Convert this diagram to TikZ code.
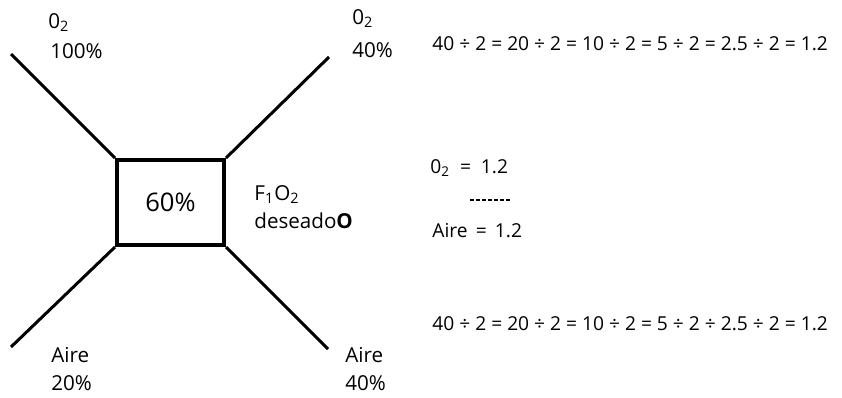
\documentclass[tikz,border=0pt]{standalone}
\usepackage{fontspec}
\setmainfont{Open Sans}
\usepackage{tikz}
\usetikzlibrary{calc}

\tikzset{
	pipe/.style={line width=1.5pt},
	lbl/.style={anchor=base west, inner sep=0pt, font=\fontsize{10.3}{12}\selectfont},
	eqn/.style={anchor=base west, inner sep=0pt, font=\fontsize{9.6}{12}\selectfont},
}
\newcommand{\sub}[1]{\textsubscript{#1}}

\begin{document}
\begin{tikzpicture}[x=0.5pt,y=-0.5pt]
	\useasboundingbox (0,0) rectangle (842,397);

	% mixing box in the middle
	\node[draw, line width=2pt, minimum width=53.5pt, minimum height=42.5pt, inner sep=0pt,
		font=\fontsize{12.8}{14}\selectfont] (box) at (170.5,202.5) {60\%};

	% free ends of the four branches
	\coordinate (tl) at (11,54);
	\coordinate (tr) at (329,57);
	\coordinate (bl) at (11,347);
	\coordinate (br) at (328,349);
	\draw[pipe] (box.north west) -- (tl);
	\draw[pipe] (box.north east) -- (tr);
	\draw[pipe] (box.south west) -- (bl);
	\draw[pipe] (box.south east) -- (br);

	% labels round the box
	\node[lbl] (otl) at (48,28) {0\sub{2}};
	\node[lbl] (ptl) at (50,58) {100\%};
	\node[lbl] (otr) at (352,24) {0\sub{2}};
	\node[lbl] (ptr) at (352,57) {40\%};
	\node[lbl] (fio) at (254,200) {F\sub{1}O\sub{2}};
	\node[lbl] (des) at (254,228) {deseado\textbf{O}};
	\node[lbl] (abl) at (51,362) {Aire};
	\node[lbl] (pbl) at (51,390) {20\%};
	\node[lbl] (abr) at (345,362) {Aire};
	\node[lbl] (pbr) at (345,390) {40\%};

	% the working on the right
	\node[eqn] (eqa) at (432,50) {40 ÷ 2 = 20 ÷ 2 = 10 ÷ 2 = 5 ÷ 2 = 2.5 ÷ 2 = 1.2};
	\node[eqn] (oxy) at (430,173) {0\sub{2} \ = \ 1.2};
	\coordinate (dl) at (470,200);
	\coordinate (dr) at (510,200);
	\draw[line width=0.8pt, dash pattern=on 1.8pt off 1.2pt] (dl) -- (dr);
	\node[eqn] (air) at (432,237) {Aire \,=\, 1.2};
	\node[eqn] (eqb) at (432,330) {40 ÷ 2 = 20 ÷ 2 = 10 ÷ 2 = 5 ÷ 2 ÷ 2.5 ÷ 2 = 1.2};
\end{tikzpicture}
\end{document}
